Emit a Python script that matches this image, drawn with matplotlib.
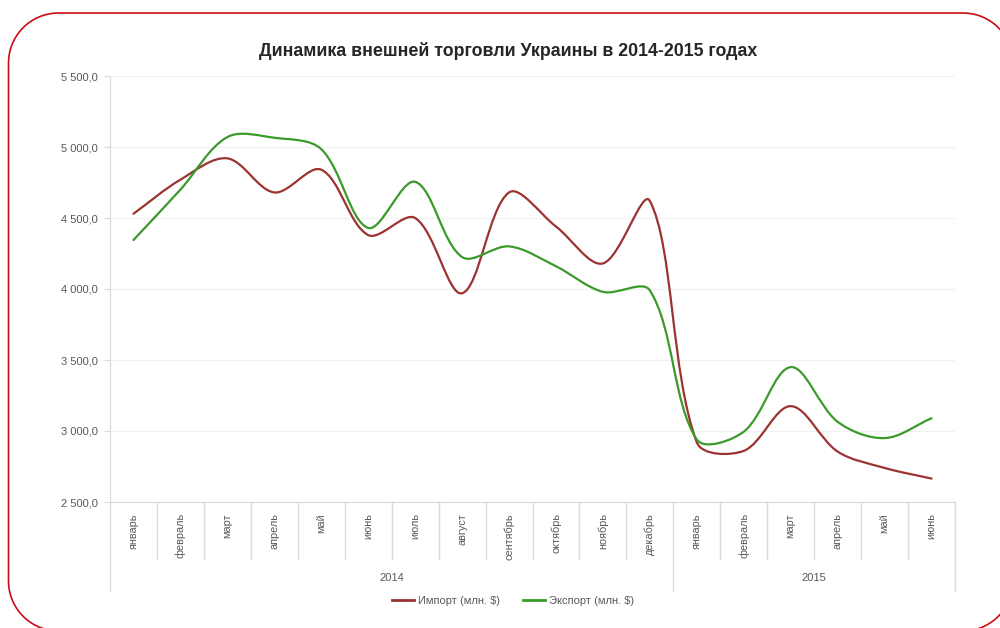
import matplotlib.pyplot as plt
import numpy as np
from matplotlib.path import Path
from matplotlib.patches import PathPatch
from matplotlib.lines import Line2D
from matplotlib.ticker import FuncFormatter, FixedLocator
from matplotlib.transforms import Affine2D

plt.rcParams['font.family'] = ['Liberation Sans', 'DejaVu Sans']

months = ["январь", "февраль", "март", "апрель", "май", "июнь", "июль", "август",
          "сентябрь", "октябрь", "ноябрь", "декабрь",
          "январь", "февраль", "март", "апрель", "май", "июнь"]
years = ["2014", "2015"]
year_counts = [12, 6]

imports = [4530, 4770, 4920, 4680, 4840, 4380, 4500, 3970, 4680, 4440, 4180, 4620,
           2920, 2860, 3175, 2855, 2740, 2665]
exports = [4345, 4700, 5070, 5065, 4985, 4430, 4755, 4225, 4300, 4160, 3980, 3990,
           2940, 2995, 3450, 3065, 2950, 3090]

red = "#9b3330"
green = "#3a9a2a"
grey_text = "#595959"
grey_line = "#d9d9d9"


def smooth_path(xs, ys, sx, sy):
    # Excel-like smoothing: bezier whose handles scale with neighbouring segment lengths
    p = np.column_stack([xs, ys]).astype(float)
    scr = p * [sx, sy]
    n = len(p)
    out_h, in_h = [], []
    for i in range(n):
        a = p[i - 1] if i > 0 else p[i]
        b = p[i + 1] if i < n - 1 else p[i]
        dp = np.hypot(*(scr[i] - (scr[i - 1] if i > 0 else scr[i])))
        dn = np.hypot(*((scr[i + 1] if i < n - 1 else scr[i]) - scr[i]))
        tot = dp + dn if dp + dn > 0 else 1
        t = (b - a)
        out_h.append(p[i] + t * dn / tot / 3)
        in_h.append(p[i] - t * dp / tot / 3)
    verts = [p[0]]
    codes = [Path.MOVETO]
    for i in range(n - 1):
        verts += [out_h[i], in_h[i + 1], p[i + 1]]
        codes += [Path.CURVE4] * 3
    return Path(verts, codes)


def rounded_frame(x0, y0, x1, y1, r):
    pts = []
    for cx, cy, a0 in [(x1 - r, y1 - r, 0), (x0 + r, y1 - r, 90),
                       (x0 + r, y0 + r, 180), (x1 - r, y0 + r, 270)]:
        ang = np.radians(np.linspace(a0, a0 + 90, 20))
        pts += list(zip(cx + r * np.cos(ang), cy + r * np.sin(ang)))
    pts.append(pts[0])
    return Path(pts)


fig = plt.figure(figsize=(10, 6.28), dpi=100)
ax = fig.add_axes([0.11, 1 - 502 / 628, 0.845, (502 - 76) / 628])

ax.set_xlim(-0.5, len(months) - 0.5)
ax.set_ylim(2500, 5500)

x = np.arange(len(months))
sx = 845 / len(months)
sy = 426 / 3000
for vals, col in [(imports, red), (exports, green)]:
    ax.add_patch(PathPatch(smooth_path(x, vals, sx, sy), facecolor="none", edgecolor=col,
                           lw=1.6, capstyle="round", joinstyle="round", zorder=3))

ax.set_yticks(np.arange(2500, 5501, 500))
ax.yaxis.set_major_formatter(FuncFormatter(
    lambda v, _: f"{v:,.1f}".replace(",", " ").replace(".", ",")))
ax.grid(axis="y", color="#f2f2f2", lw=1)
ax.set_axisbelow(True)

for s in ["top", "right"]:
    ax.spines[s].set_visible(False)
ax.spines["left"].set_color(grey_line)
ax.spines["bottom"].set_color(grey_line)
ax.tick_params(axis="y", colors=grey_line, labelcolor=grey_text, labelsize=8,
               length=4, pad=5)

# category separators (minor) and year separators (major)
bounds = np.arange(len(months) + 1) - 0.5
year_bounds = np.concatenate([[0], np.cumsum(year_counts)]) - 0.5
ax.xaxis.set_major_locator(FixedLocator(year_bounds))
ax.xaxis.set_minor_locator(FixedLocator([b for b in bounds if b not in year_bounds]))
ax.tick_params(axis="x", which="major", length=64, color=grey_line, width=1, labelbottom=False)
ax.tick_params(axis="x", which="minor", length=42, color=grey_line, width=1)

for i, m in enumerate(months):
    ax.annotate(m, (i, 0), xycoords=("data", "axes fraction"), xytext=(0, -8),
                textcoords="offset points", rotation=90, ha="center", va="top",
                fontsize=7.8, color=grey_text)

start = 0
for yr, cnt in zip(years, year_counts):
    ax.annotate(yr, (start + (cnt - 1) / 2, 0), xycoords=("data", "axes fraction"),
                xytext=(0, -55), textcoords="offset points", ha="center", va="center",
                fontsize=8, color=grey_text)
    start += cnt

handles = [Line2D([], [], color=red, lw=2), Line2D([], [], color=green, lw=2)]
fig.legend(handles, ["Импорт (млн. $)", "Экспорт (млн. $)"], loc="center",
           bbox_to_anchor=(0.513, 1 - 601 / 628), ncol=2, frameon=False, fontsize=8,
           labelcolor=grey_text, handlelength=2.0, handletextpad=0.4, columnspacing=2.0)

fig.text(0.508, 1 - 51 / 628, "Динамика внешней торговли Украины в 2014-2015 годах",
         ha="center", va="center", fontsize=12.8, fontweight="bold", color="#262626")

# rounded red frame, in pixel units (y measured from the bottom)
px = Affine2D().scale(1 / 1000, 1 / 628) + fig.transFigure
frame = PathPatch(rounded_frame(8.5, -3, 1013, 615, 50), transform=px, facecolor="none",
                  edgecolor="#cc0a14", lw=1.2, clip_on=False)
fig.patches.append(frame)

fig.savefig("out.png", dpi=100)
